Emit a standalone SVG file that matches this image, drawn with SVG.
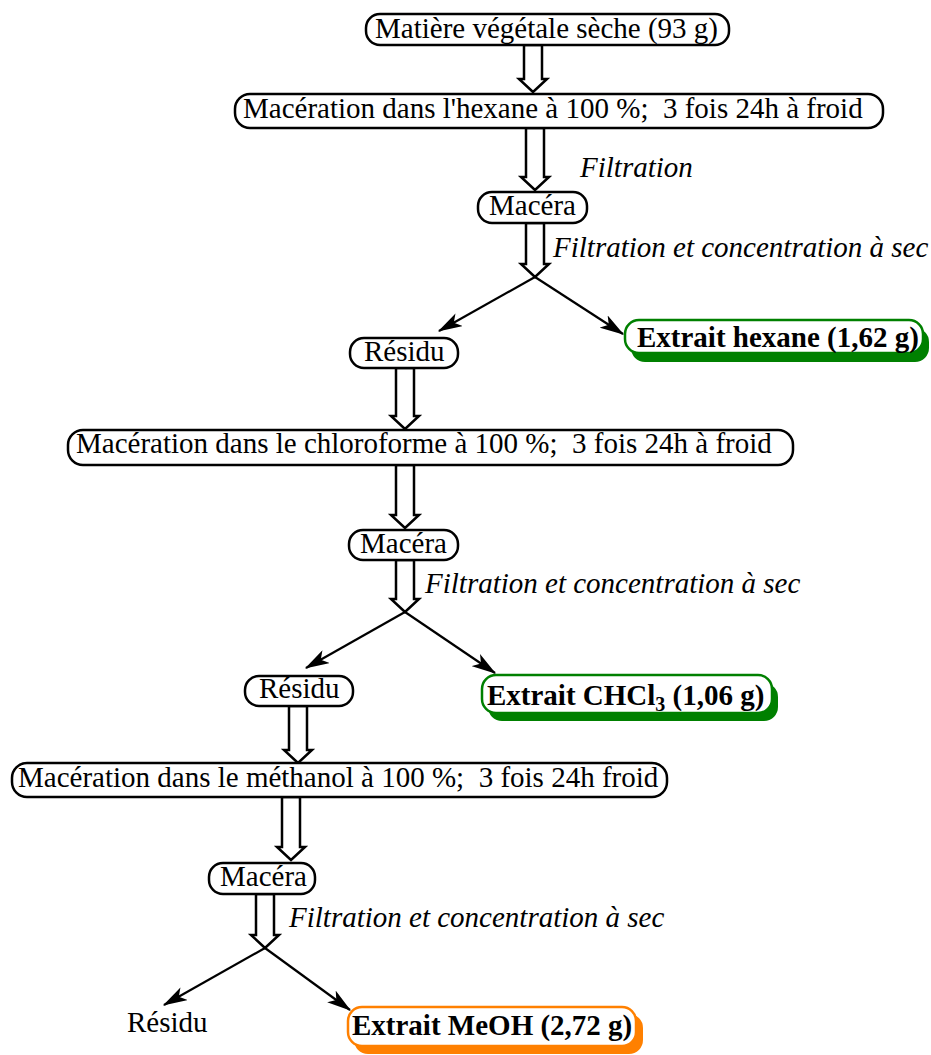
<svg xmlns="http://www.w3.org/2000/svg" width="931" height="1055" viewBox="0 0 931 1055">
<style>
text{font-family:"Liberation Serif","Times New Roman",serif;font-size:29px;fill:#000}
.it{font-style:italic}
.b{font-weight:bold}
.box{fill:#fff;stroke:#000;stroke-width:2.5}
.hol{fill:#fff;stroke:#000;stroke-width:2.5;stroke-linejoin:miter}
.ln{stroke:#000;stroke-width:2.2;fill:none;marker-end:url(#ah)}
.gb{fill:#fff;stroke:#008000;stroke-width:2.5}
.gs{fill:#008000}
.ob{fill:#fff;stroke:#ff8000;stroke-width:2.5}
.os{fill:#ff8000}
</style>
<defs>
<marker id="ah" viewBox="0 0 20 12" refX="19" refY="6" markerWidth="11" markerHeight="6.6" markerUnits="strokeWidth" orient="auto">
<path d="M0,0 L20,6 L0,12 L5,6 Z" fill="#000"/>
</marker>
</defs>
<rect width="931" height="1055" fill="#fff"/>
<g id="connectors">
<polygon class="hol" points="524,45 542,45 542,79 547,79 533,92 519,79 524,79"/>
<polygon class="hol" points="526,128 544,128 544,177 549,177 535,190 521,177 526,177"/>
<polygon class="hol" points="526,223 544,223 544,264 549,264 535,277 521,264 526,264"/>
<line class="ln" x1="535" y1="277" x2="439" y2="331"/>
<line class="ln" x1="535" y1="277" x2="623" y2="334"/>
<polygon class="hol" points="396,368 414,368 414,416 419,416 405,429 391,416 396,416"/>
<polygon class="hol" points="396,465 414,465 414,515 419,515 405,528 391,515 396,515"/>
<polygon class="hol" points="396,560 414,560 414,599 419,599 405,612 391,599 396,599"/>
<line class="ln" x1="405" y1="612" x2="306" y2="668"/>
<line class="ln" x1="405" y1="612" x2="495" y2="673"/>
<polygon class="hol" points="289,706 307,706 307,750 312,750 298,763 284,750 289,750"/>
<polygon class="hol" points="282,797 300,797 300,847 305,847 291,860 277,847 282,847"/>
<polygon class="hol" points="256,894 274,894 274,935 279,935 265,948 251,935 256,935"/>
<line class="ln" x1="265" y1="948" x2="164" y2="1005"/>
<line class="ln" x1="265" y1="948" x2="350" y2="1010"/>
</g>
<g id="n1"><rect class="box" x="366" y="14" width="363" height="31" rx="14"/><text x="375" y="38">Matière végétale sèche (93 g)</text></g>
<g id="n2"><rect class="box" x="235" y="94" width="648" height="34" rx="15"/><text x="243" y="118" xml:space="preserve">Macération dans l'hexane à 100 %;  3 fois 24h à froid</text></g>
<g id="lbl1"><text class="it" x="580" y="177">Filtration</text></g>
<g id="n3"><rect class="box" x="478" y="192" width="109" height="31" rx="14"/><text x="489" y="215">Macéra</text></g>
<g id="lbl2"><text class="it" x="553" y="257">Filtration et concentration à sec</text></g>
<g id="n4"><rect class="box" x="350" y="338" width="108" height="30" rx="14"/><text x="364" y="361">Résidu</text></g>
<g id="n5"><rect class="gs" x="631" y="328" width="298" height="34" rx="14"/><rect class="gb" x="625" y="320" width="298" height="33" rx="14"/><text class="b" x="637" y="347">Extrait hexane (1,62 g)</text></g>
<g id="n6"><rect class="box" x="68" y="430" width="725" height="35" rx="15"/><text x="76" y="453" xml:space="preserve">Macération dans le chloroforme à 100 %;  3 fois 24h à froid</text></g>
<g id="n7"><rect class="box" x="349" y="530" width="109" height="30" rx="14"/><text x="360" y="553">Macéra</text></g>
<g id="lbl3"><text class="it" x="425" y="593">Filtration et concentration à sec</text></g>
<g id="n8"><rect class="box" x="245" y="676" width="108" height="30" rx="14"/><text x="259" y="698">Résidu</text></g>
<g id="n9"><rect class="gs" x="488" y="683" width="290" height="38" rx="14"/><rect class="gb" x="482" y="675" width="290" height="38" rx="14"/><text class="b" x="487" y="705">Extrait CHCl<tspan font-size="20" dy="6">3</tspan><tspan dy="-6"> (1,06 g)</tspan></text></g>
<g id="n10"><rect class="box" x="12" y="763" width="655" height="34" rx="15"/><text x="18" y="787" xml:space="preserve">Macération dans le méthanol à 100 %;  3 fois 24h froid</text></g>
<g id="n11"><rect class="box" x="209" y="863" width="106" height="31" rx="14"/><text x="220" y="886">Macéra</text></g>
<g id="lbl4"><text class="it" x="289" y="927">Filtration et concentration à sec</text></g>
<g id="n12"><text x="127" y="1032">Résidu</text></g>
<g id="n13"><rect class="os" x="354" y="1014" width="289" height="40" rx="14"/><rect class="ob" x="348" y="1007" width="288" height="39" rx="14"/><text class="b" x="352" y="1035">Extrait MeOH (2,72 g)</text></g>
</svg>
